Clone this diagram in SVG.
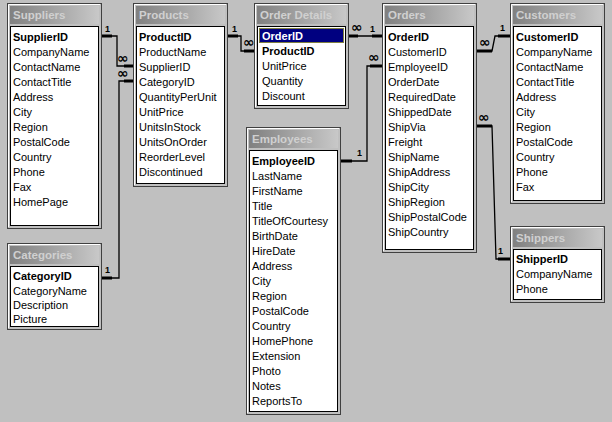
<svg xmlns="http://www.w3.org/2000/svg" width="612" height="422" viewBox="0 0 612 422">
<defs>
<linearGradient id="tg" x1="0" x2="1" y1="0" y2="0"><stop offset="0" stop-color="#808080"/><stop offset="1" stop-color="#c8c8c8"/></linearGradient>
</defs>
<style>
.win{fill:#c0c0c0;stroke:#404040;stroke-width:1}
.hl{fill:none;stroke:#ffffff;stroke-width:1}
.tb{fill:url(#tg)}
.tt{font-family:"Liberation Sans",Arial,sans-serif;font-size:11.5px;font-weight:bold;fill:#d0d0d0}
.lst{fill:#fff;stroke:#000;stroke-width:1}
.f{font-family:"Liberation Sans",Arial,sans-serif;font-size:11px;fill:#000}
.k{font-weight:bold}
.c{fill:none;stroke:#000;stroke-width:1.3}
.t{fill:none;stroke:#000;stroke-width:3}
.m{font-family:"Liberation Sans",Arial,sans-serif;font-size:9px;font-weight:bold;fill:#000}
.i{font-family:"DejaVu Sans",sans-serif;font-size:14px;font-weight:bold;fill:#000}
</style>
<rect width="612" height="422" fill="#c0c0c0"/>
<g id="connectors">
<path class="c" d="M101 36H117V66H133M101 278H119V81H133"/>
<path class="t" d="M101 36H112M124 66H133M101 278H112M124 81H133"/>
<text class="m" x="105" y="32">1</text><text class="i" x="117" y="63">∞</text><text class="i" x="117" y="78">∞</text><text class="m" x="105" y="273">1</text>
<path class="c" d="M228 36H241V51H254"/><path class="t" d="M228 36H238M244 51H254"/>
<text class="m" x="232" y="32">1</text><text class="i" x="243" y="47">∞</text>
<path class="c" d="M349 36H382"/><path class="t" d="M349 36H358M372 36H382"/>
<text class="i" x="351" y="32">∞</text><text class="m" x="370" y="32">1</text>
<path class="c" d="M341 161H367V66H382"/><path class="t" d="M341 161H352M370 66H382"/>
<text class="m" x="357" y="156">1</text><text class="i" x="368" y="62">∞</text>
<path class="c" d="M477 51H492L495 36H510"/><path class="t" d="M477 51H492M498 36H510"/>
<text class="i" x="479" y="47">∞</text><text class="m" x="500" y="31">1</text>
<path class="c" d="M477 126H492L496 259H510"/><path class="t" d="M477 126H492M498 259H510"/>
<text class="i" x="478" y="122">∞</text><text class="m" x="498" y="254">1</text>
</g>
<g id="Suppliers">
<rect class="win" x="7.5" y="3.5" width="94" height="225"/><path class="hl" d="M8.5 227V4.5H100"/>
<rect class="tb" x="10" y="6" width="89" height="18"/><text class="tt" x="13" y="19">Suppliers</text>
<rect class="lst" x="10.5" y="26.5" width="88" height="199"/>
<g class="f"><text x="13" y="41" class="k">SupplierID</text><text x="13" y="56">CompanyName</text><text x="13" y="71">ContactName</text><text x="13" y="86">ContactTitle</text><text x="13" y="101">Address</text><text x="13" y="116">City</text><text x="13" y="131">Region</text><text x="13" y="146">PostalCode</text><text x="13" y="161">Country</text><text x="13" y="176">Phone</text><text x="13" y="191">Fax</text><text x="13" y="206">HomePage</text></g>
</g>
<g id="Products">
<rect class="win" x="133.5" y="3.5" width="94" height="183"/><path class="hl" d="M134.5 185V4.5H226"/>
<rect class="tb" x="136" y="6" width="89" height="18"/><text class="tt" x="139" y="19">Products</text>
<rect class="lst" x="136.5" y="26.5" width="88" height="157"/>
<g class="f"><text x="139" y="41" class="k">ProductID</text><text x="139" y="56">ProductName</text><text x="139" y="71">SupplierID</text><text x="139" y="86">CategoryID</text><text x="139" y="101">QuantityPerUnit</text><text x="139" y="116">UnitPrice</text><text x="139" y="131">UnitsInStock</text><text x="139" y="146">UnitsOnOrder</text><text x="139" y="161">ReorderLevel</text><text x="139" y="176">Discontinued</text></g>
</g>
<g id="OrderDetails">
<rect class="win" x="254.5" y="3.5" width="94" height="105"/><path class="hl" d="M255.5 107V4.5H347"/>
<rect class="tb" x="257" y="6" width="89" height="18"/><text class="tt" x="260" y="19">Order Details</text>
<rect class="lst" x="257.5" y="26.5" width="88" height="79"/>
<rect x="259" y="28" width="85" height="15" fill="#000080"/><rect x="259.5" y="28.5" width="84" height="14" fill="none" stroke="#ffff00" stroke-dasharray="1,1"/>
<g class="f"><text x="262" y="40" class="k" style="fill:#fff">OrderID</text><text x="262" y="55" class="k">ProductID</text><text x="262" y="70">UnitPrice</text><text x="262" y="85">Quantity</text><text x="262" y="100">Discount</text></g>
</g>
<g id="Orders">
<rect class="win" x="382.5" y="3.5" width="94" height="249"/><path class="hl" d="M383.5 251V4.5H475"/>
<rect class="tb" x="385" y="6" width="89" height="18"/><text class="tt" x="388" y="19">Orders</text>
<rect class="lst" x="385.5" y="26.5" width="88" height="223"/>
<g class="f"><text x="388" y="41" class="k">OrderID</text><text x="388" y="56">CustomerID</text><text x="388" y="71">EmployeeID</text><text x="388" y="86">OrderDate</text><text x="388" y="101">RequiredDate</text><text x="388" y="116">ShippedDate</text><text x="388" y="131">ShipVia</text><text x="388" y="146">Freight</text><text x="388" y="161">ShipName</text><text x="388" y="176">ShipAddress</text><text x="388" y="191">ShipCity</text><text x="388" y="206">ShipRegion</text><text x="388" y="221">ShipPostalCode</text><text x="388" y="236">ShipCountry</text></g>
</g>
<g id="Customers">
<rect class="win" x="510.5" y="3.5" width="94" height="200"/><path class="hl" d="M511.5 202V4.5H603"/>
<rect class="tb" x="513" y="6" width="89" height="18"/><text class="tt" x="516" y="19">Customers</text>
<rect class="lst" x="513.5" y="26.5" width="88" height="174"/>
<g class="f"><text x="516" y="41" class="k">CustomerID</text><text x="516" y="56">CompanyName</text><text x="516" y="71">ContactName</text><text x="516" y="86">ContactTitle</text><text x="516" y="101">Address</text><text x="516" y="116">City</text><text x="516" y="131">Region</text><text x="516" y="146">PostalCode</text><text x="516" y="161">Country</text><text x="516" y="176">Phone</text><text x="516" y="191">Fax</text></g>
</g>
<g id="Categories">
<rect class="win" x="7.5" y="243.5" width="94" height="86"/><path class="hl" d="M8.5 328V244.5H100"/>
<rect class="tb" x="10" y="246" width="89" height="18"/><text class="tt" x="13" y="259">Categories</text>
<rect class="lst" x="10.5" y="266.5" width="88" height="60"/>
<g class="f"><text x="13" y="280" class="k">CategoryID</text><text x="13" y="295">CategoryName</text><text x="13" y="309">Description</text><text x="13" y="323">Picture</text></g>
</g>
<g id="Employees">
<rect class="win" x="246.5" y="127.5" width="94" height="287"/><path class="hl" d="M247.5 413V128.5H339"/>
<rect class="tb" x="249" y="130" width="89" height="18"/><text class="tt" x="252" y="143">Employees</text>
<rect class="lst" x="249.5" y="150.5" width="88" height="261"/>
<g class="f"><text x="252" y="165" class="k">EmployeeID</text><text x="252" y="180">LastName</text><text x="252" y="195">FirstName</text><text x="252" y="210">Title</text><text x="252" y="225">TitleOfCourtesy</text><text x="252" y="240">BirthDate</text><text x="252" y="255">HireDate</text><text x="252" y="270">Address</text><text x="252" y="285">City</text><text x="252" y="300">Region</text><text x="252" y="315">PostalCode</text><text x="252" y="330">Country</text><text x="252" y="345">HomePhone</text><text x="252" y="360">Extension</text><text x="252" y="375">Photo</text><text x="252" y="390">Notes</text><text x="252" y="405">ReportsTo</text></g>
</g>
<g id="Shippers">
<rect class="win" x="510.5" y="226.5" width="94" height="76"/><path class="hl" d="M511.5 301V227.5H603"/>
<rect class="tb" x="513" y="229" width="89" height="18"/><text class="tt" x="516" y="242">Shippers</text>
<rect class="lst" x="513.5" y="249.5" width="88" height="50"/>
<g class="f"><text x="516" y="263" class="k">ShipperID</text><text x="516" y="278">CompanyName</text><text x="516" y="293">Phone</text></g>
</g>
</svg>
